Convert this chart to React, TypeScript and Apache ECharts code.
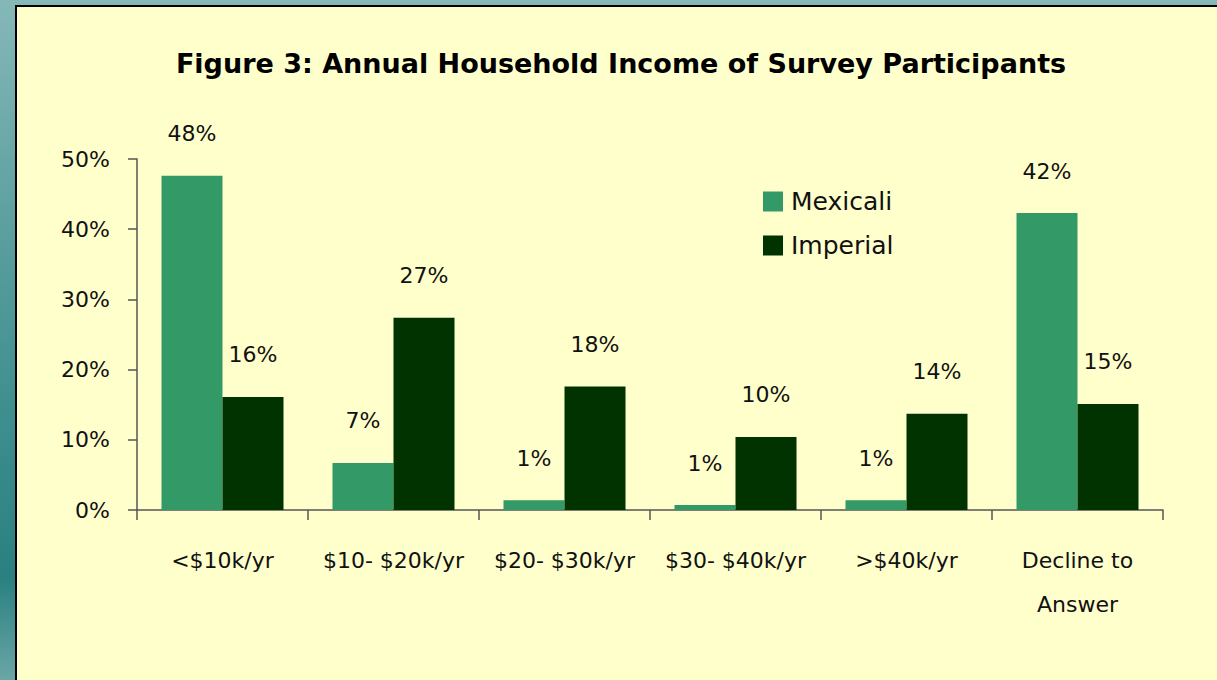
import React, { useEffect, useRef } from "react";
import * as echarts from "echarts";

const categories = ["<$10k/yr", "$10- $20k/yr", "$20- $30k/yr", "$30- $40k/yr", ">$40k/yr", "Decline to\nAnswer"];
const mexicali = [47.6, 6.7, 1.4, 0.7, 1.4, 42.3];
const imperial = [16.1, 27.4, 17.6, 10.4, 13.7, 15.1];
const yTicks = [0, 10, 20, 30, 40, 50];
const titleText = "Figure 3: Annual Household Income of Survey Participants";

const FONT = "DejaVu Sans";

export default function App() {
  const ref = useRef<HTMLDivElement>(null);
  useEffect(() => {
    document.body.style.margin = "0";
    const chart = echarts.init(ref.current!, undefined, { renderer: "svg" });
    chart.setOption({
      animation: false,
      backgroundColor: {
        type: "linear", x: 0, y: 0, x2: 0, y2: 1,
        colorStops: [
          { offset: 0, color: "#86b8b8" },
          { offset: 0.35, color: "#5a9e9e" },
          { offset: 0.6, color: "#3f8f8f" },
          { offset: 0.85, color: "#2a8080" },
          { offset: 1, color: "#6aa6a6" },
        ],
      },
      textStyle: { fontFamily: FONT },
      graphic: [
        {
          type: "rect", z: -10, silent: true,
          shape: { x: 16, y: 6, width: 1210, height: 690 },
          style: { fill: "#FFFFCC", stroke: "#000", lineWidth: 2 },
        },
      ],
      title: {
        text: titleText,
        left: 616, top: 45, textAlign: "center",
        textStyle: { fontFamily: FONT, fontSize: 27, fontWeight: "bold", color: "#000" },
      },
      legend: {
        orient: "vertical", left: 758, top: 184, itemWidth: 20, itemHeight: 20, itemGap: 19,
        icon: "rect",
        textStyle: { fontFamily: FONT, fontSize: 25, color: "#111", padding: [0, 0, 0, 3] },
        data: ["Mexicali", "Imperial"],
      },
      grid: { left: 137, right: 54, top: 159, bottom: 170, containLabel: false },
      xAxis: {
        type: "category",
        data: categories,
        axisLine: { lineStyle: { color: "#555", width: 1.5 } },
        axisTick: { show: true, length: 10, lineStyle: { color: "#555", width: 1.5 } },
        axisLabel: { fontFamily: FONT, fontSize: 22, color: "#111", margin: 28, lineHeight: 44, interval: 0 },
      },
      yAxis: {
        type: "value", min: yTicks[0], max: yTicks[yTicks.length - 1], interval: 10,
        splitLine: { show: false },
        axisLine: { show: true, lineStyle: { color: "#555", width: 1.5 } },
        axisTick: { show: true, length: 9, lineStyle: { color: "#555", width: 1.5 } },
        axisLabel: { fontFamily: FONT, fontSize: 22, color: "#111", margin: 27, formatter: "{value}%" },
      },
      series: [
        {
          name: "Mexicali", type: "bar", data: mexicali, barWidth: 61, barGap: "0%",
          itemStyle: { color: "#339966" },
          label: {
            show: true, position: "top", distance: 31, fontFamily: FONT, fontSize: 22, color: "#111",
            formatter: (p: any) => Math.round(p.value) + "%",
          },
        },
        {
          name: "Imperial", type: "bar", data: imperial, barWidth: 61, barGap: "0%",
          itemStyle: { color: "#003300" },
          label: {
            show: true, position: "top", distance: 31, fontFamily: FONT, fontSize: 22, color: "#111",
            formatter: (p: any) => Math.round(p.value) + "%",
          },
        },
      ],
    });
    return () => chart.dispose();
  }, []);
  return <div ref={ref} style={{ width: 1217, height: 680, position: "absolute", left: 0, top: 0 }} />;
}
